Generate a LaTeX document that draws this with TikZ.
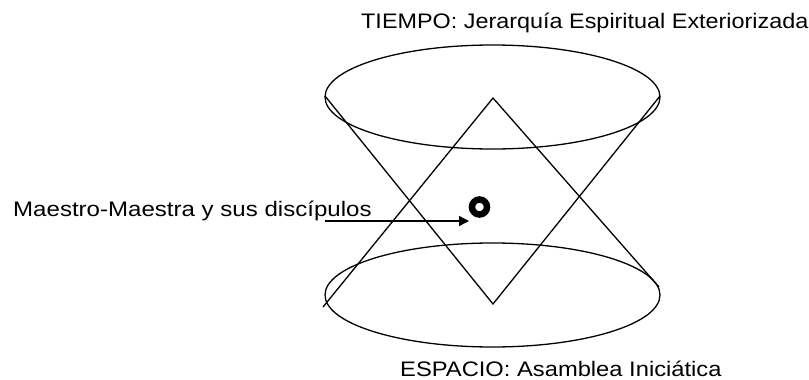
\documentclass[tikz,border=0pt]{standalone}
\usepackage{fontspec}
\setmainfont{Liberation Sans}
\usetikzlibrary{arrows.meta}
\tikzset{
  shape line/.style={draw=black, line width=1.3pt},
  label text/.style={anchor=base west, inner sep=0pt, font=\fontsize{21}{24}\selectfont},
  ring/.style={circle, draw=black, line width=6.5pt, minimum size=15pt, inner sep=0pt},
  pointer/.style={draw=black, line width=1.3pt, -{Triangle[length=10pt,width=10pt]}}
}
\begin{document}
\begin{tikzpicture}[x=1pt,y=-1pt]
\useasboundingbox (0,0) rectangle (809,380);
% ellipses
\coordinate (ct) at (492.5,97);
\coordinate (cb) at (492.5,295);
\draw[shape line] (ct) ellipse [x radius=167.5, y radius=52];
\draw[shape line] (cb) ellipse [x radius=167.5, y radius=52];
% triangles
\coordinate (tl) at (325,96);
\coordinate (tr) at (660,96);
\coordinate (bv) at (493,304);
\coordinate (tv) at (493,98);
\coordinate (bl) at (323,307);
\coordinate (br) at (659,287);
\draw[shape line] (tl) -- (bv) -- (tr);
\draw[shape line] (bl) -- (tv) -- (br);
% ring and pointer
\node[ring] (r) at (479.5,207) {};
\coordinate (ps) at (325,221);
\coordinate (pe) at (469,221);
\draw[pointer] (ps) -- (pe);
% texts
\node[label text] (t1) at (361,28.3) {\scalebox{1.114}[1]{TIEMPO: Jerarquía Espiritual Exteriorizada}};
\node[label text] (t2) at (400,376.5) {\scalebox{1.13}[1]{ESPACIO: Asamblea Iniciática}};
\node[label text] (t3) at (13,216.7) {\scalebox{1.146}[1]{Maestro-Maestra y sus discípulos}};
\end{tikzpicture}
\end{document}
